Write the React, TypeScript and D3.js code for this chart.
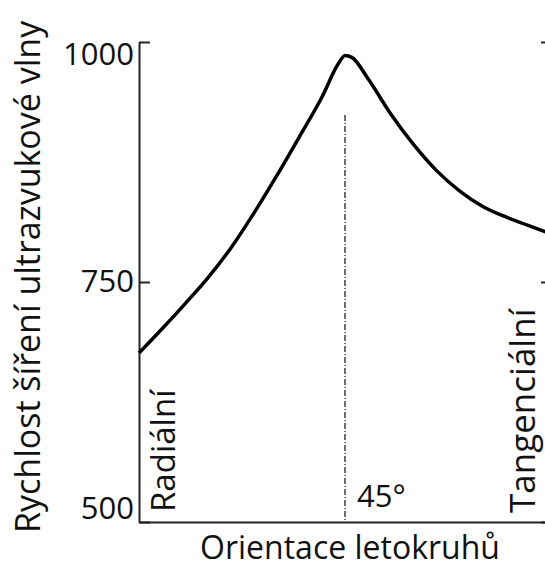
import React, { useEffect, useRef } from "react";
import * as d3 from "d3";

// orientation of growth rings (deg) vs ultrasound speed
const angles = [0, 5, 10, 15, 20, 25, 30, 35, 40, 43.5, 45, 46.5, 50, 55, 60, 65, 70, 75, 80, 85, 90];
const speeds = [676, 701, 727, 754, 785, 821, 860, 901, 943, 977, 986, 984, 962, 925, 893, 866, 845, 829, 818, 809, 800];
const yTicks = [500, 750, 1000];
const markAngle = 45;
const yTitle = "Rychlost šíření ultrazvukové vlny";
const xTitle = "Orientace letokruhů";
const leftLabel = "Radiální";
const rightLabel = "Tangenciální";

const W = 545;
const H = 563;
const FONT = "'Open Sans', 'Noto Sans', sans-serif";

const App = () => {
  const svgRef = useRef<SVGSVGElement>(null);

  useEffect(() => {
    const svg = d3.select(svgRef.current);
    svg.selectAll("*").remove();

    //scales
    const x = d3.scaleLinear().domain([0, 90]).range([139, 551]);
    const y = d3.scaleLinear().domain([500, 1000]).range([522, 42]);

    //left axis, ticks pointing inward
    const yAxis = d3
      .axisLeft(y)
      .tickValues(yTicks)
      .tickFormat(d3.format("d"))
      .tickSizeInner(-11)
      .tickSizeOuter(0)
      .tickPadding(5);
    const gy = svg.append("g").attr("transform", `translate(${x(0)},0)`).call(yAxis);
    gy.select(".domain").attr("stroke", "#222").attr("stroke-width", 2);
    gy.selectAll(".tick line").attr("stroke", "#222").attr("stroke-width", 2);
    gy.selectAll(".tick text")
      .attr("font-family", FONT)
      .attr("font-size", 31)
      .attr("fill", "#111")
      .attr("dy", (d: any) => (d === 1000 ? "0.72em" : d === 500 ? "-0.1em" : "0.3em"));

    //right axis (mostly out of view)
    const yAxisR = d3.axisRight(y).tickValues(yTicks).tickSizeInner(-10).tickSizeOuter(0).tickFormat(() => "");
    const gr = svg.append("g").attr("transform", `translate(${x(90)},0)`).call(yAxisR);
    gr.selectAll("path,line").attr("stroke", "#222").attr("stroke-width", 2);

    //bottom axis line
    const xAxis = d3.axisBottom(x).tickValues([]).tickSizeOuter(0);
    const gx = svg.append("g").attr("transform", `translate(0,${y(500)})`).call(xAxis);
    gx.select(".domain").attr("stroke", "#222").attr("stroke-width", 2);

    //45 deg marker
    svg
      .append("line")
      .attr("x1", x(markAngle))
      .attr("x2", x(markAngle))
      .attr("y1", 115)
      .attr("y2", y(500))
      .attr("stroke", "#222")
      .attr("stroke-width", 1.3)
      .attr("stroke-dasharray", "6,2,1,2");

    //curve
    const line = d3
      .line<number>()
      .x((d, i) => x(angles[i]))
      .y((d) => y(d))
      .curve(d3.curveMonotoneX);
    svg
      .append("path")
      .datum(speeds)
      .attr("d", line)
      .attr("fill", "none")
      .attr("stroke", "#000")
      .attr("stroke-width", 3.5)
      .attr("stroke-linejoin", "round");

    //labels
    const txt = (s: string, size: number) =>
      svg.append("text").text(s).attr("font-family", FONT).attr("font-size", size).attr("fill", "#111");

    txt(xTitle, 32).attr("x", 350).attr("y", 559).attr("text-anchor", "middle");
    txt(yTitle, 34).attr("transform", `translate(40,533) rotate(-90)`);
    txt(leftLabel, 33).attr("transform", `translate(175,512) rotate(-90)`);
    txt(rightLabel, 35).attr("transform", `translate(535,513) rotate(-90)`);
    txt("45°", 31).attr("x", x(markAngle) + 12).attr("y", 507);
  }, []);

  return (
    <svg
      ref={svgRef}
      width={W}
      height={H}
      style={{ position: "absolute", left: 0, top: 0, display: "block", background: "#fff" }}
    />
  );
};

export default App;
